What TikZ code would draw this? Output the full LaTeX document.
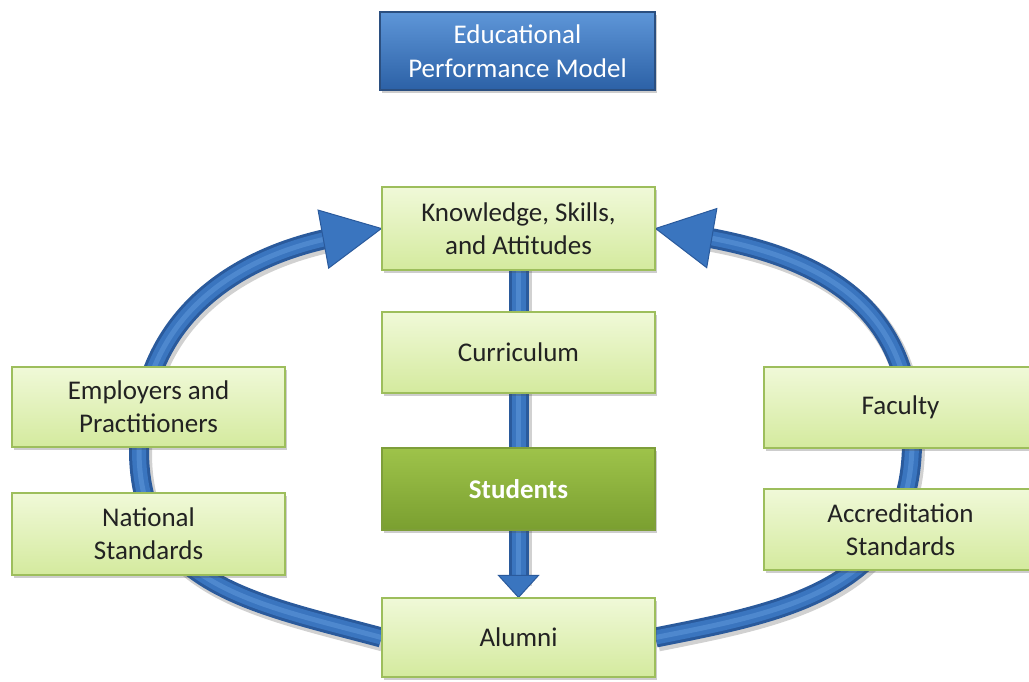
\documentclass[tikz,border=0pt]{standalone}
\usepackage{fontspec}
\setmainfont{Carlito}
\usetikzlibrary{shadows,decorations.markings}
\definecolor{gtop}{HTML}{F0F9D8}
\definecolor{gbot}{HTML}{D4EA9E}
\definecolor{gborder}{HTML}{9DBE5C}
\definecolor{stop}{HTML}{9EC34A}
\definecolor{sbot}{HTML}{7A9F30}
\definecolor{sborder}{HTML}{7E9E3A}
\definecolor{ttop}{HTML}{5E96D8}
\definecolor{tbot}{HTML}{2C61A6}
\definecolor{tborder}{HTML}{2B4F80}
\definecolor{adark}{HTML}{2A5A9C}
\definecolor{amid}{HTML}{3A75BF}
\definecolor{alight}{HTML}{5C95D9}
\definecolor{textc}{HTML}{222222}
\pgfdeclarelayer{background}
\pgfsetlayers{background,main}
\tikzset{
  boxshadow/.style={drop shadow={shadow xshift=2pt,shadow yshift=-3pt,opacity=0.28,fill=black!70}},
  gbox/.style={draw=gborder, line width=1.2pt, top color=gtop, bottom color=gbot,
    minimum width=273pt, inner sep=0pt, align=center, text=textc,
    font=\fontsize{27}{33}\selectfont, boxshadow},
  sbox/.style={gbox, draw=sborder, top color=stop, bottom color=sbot, text=white,
    font=\fontsize{27}{33}\selectfont\bfseries},
  tbox/.style={draw=tborder, line width=1.2pt, top color=ttop, bottom color=tbot,
    minimum width=275pt, minimum height=78pt, inner sep=0pt, align=center, text=white,
    font=\fontsize{27}{34}\selectfont, boxshadow},
  bluearrow/.style n args={3}{
    preaction={draw=black, opacity=0.18, line width=22pt, shorten >=#3pt,
      transform canvas={shift={(2pt,-3pt)}}},
    preaction={draw=adark, line width=20pt, shorten >=#3pt},
    preaction={draw=amid, line width=14pt, shorten >=#3pt},
    preaction={draw=alight, line width=5pt, shorten >=#3pt, opacity=0.6},
    postaction={decorate, decoration={markings,
      mark=at position 1 with {\filldraw[fill=amid, draw=adark, line width=1pt, line join=miter]
        (0,0) -- (-#1,#2) -- (-#1,-#2) -- cycle;}}}
  }
}
\begin{document}
\begin{tikzpicture}[x=1pt,y=-1pt]
\useasboundingbox (0,0) rectangle (1029,681);
\begin{scope}
\clip (0,0) rectangle (1029,681);
% nodes
\node[tbox] (title) at (517.5,51) {Educational\\Performance Model};
\node[gbox, minimum height=83pt] (knowledge) at (518.5,228.5) {Knowledge, Skills,\\and Attitudes};
\node[gbox, minimum height=81pt] (curriculum) at (518.5,352.5) {Curriculum};
\node[sbox, minimum height=82pt] (students) at (518.5,489) {Students};
\node[gbox, minimum height=79pt] (alumni) at (518.5,637.5) {Alumni};
\node[gbox, minimum height=80pt] (employers) at (148.5,407) {Employers and\\Practitioners};
\node[gbox, minimum height=82pt] (national) at (148.5,534) {National\\Standards};
\node[gbox, minimum height=81pt] (faculty) at (900.5,407.5) {Faculty};
\node[gbox, minimum height=81pt] (accreditation) at (900.5,529.5) {Accreditation\\Standards};
\end{scope}
\coordinate (lw) at (139,450);
\coordinate (rw) at (912,442);
\begin{pgfonlayer}{background}
\fill[white] (0,0) rectangle (1029,681);
\path[bluearrow={22}{20}{14}] (knowledge.center) -- (alumni.north);
\path[bluearrow={59}{29.5}{42}] (alumni.west)
  .. controls +(-126,-34) and +(0,135) .. (lw)
  .. controls +(0,-130) and +(-148,27) .. (knowledge.west);
\path[bluearrow={57}{30}{42}] (alumni.east)
  .. controls +(125,-25) and +(0,148) .. (rw)
  .. controls +(0,-142) and +(158,27) .. (knowledge.east);
\end{pgfonlayer}
\end{tikzpicture}
\end{document}
